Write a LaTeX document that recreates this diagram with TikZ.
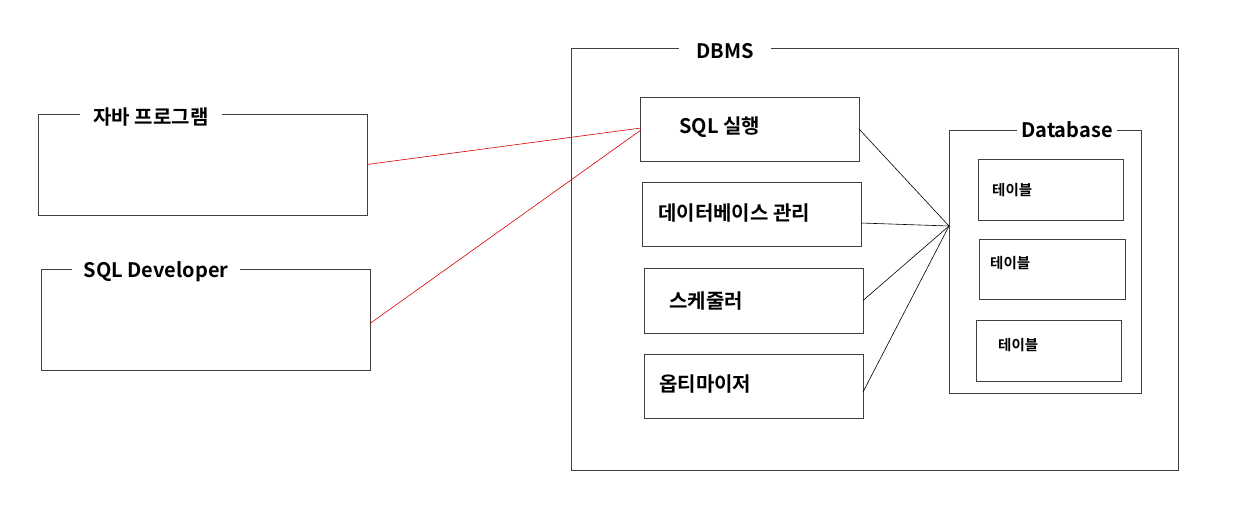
\documentclass[tikz,border=0pt]{standalone}
\usepackage{fontspec}
\setmainfont{Noto Sans CJK KR}[BoldFont={* Bold}]
\usetikzlibrary{calc}
\begin{document}
\begin{tikzpicture}[x=1pt,y=-1pt,
  frame/.style={draw=black!75,line width=0.9pt,inner sep=0pt,outer sep=0pt,anchor=north west,rectangle},
  title/.style={fill=white,inner ysep=1pt,font=\bfseries\fontsize{20}{24}\selectfont},
  lbl/.style={anchor=west,inner sep=0pt,font=\bfseries\fontsize{20}{24}\selectfont},
  small/.style={anchor=west,inner sep=0pt,font=\bfseries\fontsize{14.5}{17}\selectfont},
  red line/.style={draw=red!85!black,line width=0.6pt},
  black line/.style={draw=black,line width=0.6pt}]
\useasboundingbox (0,0) rectangle (1236,507);
\fill[white] (0,0) rectangle (1236,507);
% DBMS frame
\node[frame,minimum width=607pt,minimum height=422pt] (dbms) at (571,48) {};
\node[title,inner xsep=17pt,anchor=center] (dbmst) at (725,51) {DBMS};
% Java program
\node[frame,minimum width=329pt,minimum height=101pt] (java) at (38,114) {};
\node[title,inner xsep=14pt] (javat) at (151,117) {자바 프로그램};
% SQL Developer
\node[frame,minimum width=329pt,minimum height=101pt] (dev) at (41,269) {};
\node[title,inner xsep=12pt] (devt) at (156,272) {SQL Developer};
% inner boxes
\node[frame,minimum width=219pt,minimum height=64pt] (exec) at (640,97) {};
\node[lbl] (execl) at (679,127) {SQL 실행};
\node[frame,minimum width=219pt,minimum height=64pt] (dbm) at (642,182) {};
\node[lbl] (dbml) at (658,213) {데이터베이스 관리};
\node[frame,minimum width=219pt,minimum height=65pt] (sched) at (644,268) {};
\node[lbl] (schedl) at (669,301) {스케줄러};
\node[frame,minimum width=219pt,minimum height=64pt] (opt) at (644,354) {};
\node[lbl] (optl) at (659,384) {옵티마이저};
% Database
\node[frame,minimum width=192pt,minimum height=263pt] (db) at (949,130) {};
\node[title,inner xsep=4pt] (dbt) at (1067,130) {Database};
\node[frame,minimum width=145pt,minimum height=61pt] (t1) at (978,159) {};
\node[small] (t1l) at (992,190) {테이블};
\node[frame,minimum width=146pt,minimum height=60pt] (t2) at (979,239) {};
\node[small] (t2l) at (990,263) {테이블};
\node[frame,minimum width=145pt,minimum height=61pt] (t3) at (976,320) {};
\node[small] (t3l) at (998,345) {테이블};
% connectors
\coordinate (hub) at (949,226);
\draw[red line] (java.east) -- ($(exec.west)+(1,-1)$);
\draw[red line] ($(dev.east)+(0,4)$) -- ($(exec.west)+(1,1)$);
\draw[black line] (exec.east) -- (hub);
\draw[black line] ($(dbm.east)+(0,9)$) -- (hub);
\draw[black line] (sched.east) -- (hub);
\draw[black line] ($(opt.east)+(0,6)$) -- (hub);
\end{tikzpicture}
\end{document}
